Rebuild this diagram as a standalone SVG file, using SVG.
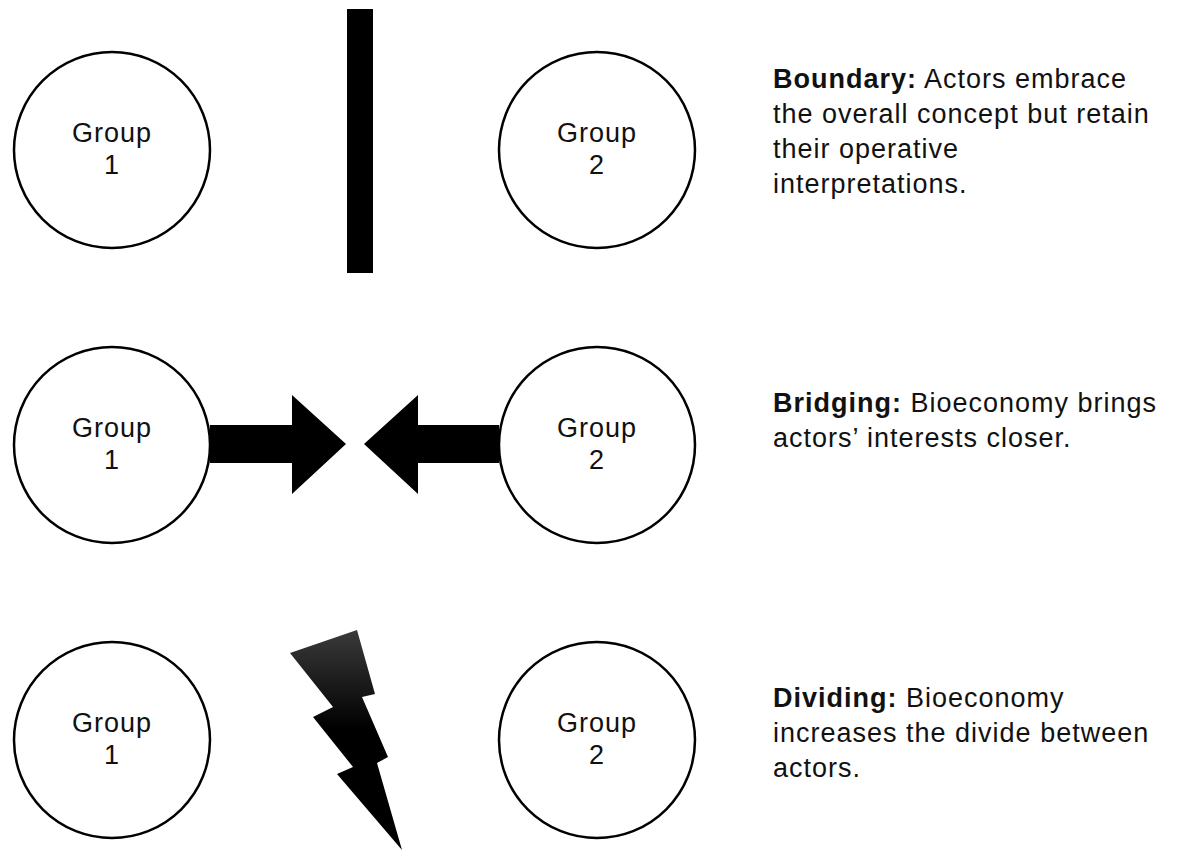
<svg xmlns="http://www.w3.org/2000/svg" width="1191" height="852" viewBox="0 0 1191 852">
<style>
.c{fill:#fff;stroke:#000;stroke-width:2.5}
.g{font-family:"Liberation Sans",Arial,sans-serif;font-size:27px;letter-spacing:1px;fill:#111;text-anchor:middle}
.d{font-family:"Liberation Sans",Arial,sans-serif;font-size:27px;letter-spacing:1px;fill:#111}
.b{font-weight:bold}
</style>
<defs>
<linearGradient id="bolt" x1="0" y1="0" x2="0" y2="1">
<stop offset="0" stop-color="#3a3a3a"/>
<stop offset="0.45" stop-color="#000"/>
<stop offset="1" stop-color="#000"/>
</linearGradient>
</defs>
<rect width="1191" height="852" fill="#fff"/>
<g id="row1-group1"><circle class="c" cx="112" cy="150" r="98"/><text class="g" x="112" y="142">Group</text><text class="g" x="112" y="174">1</text></g>
<g id="row1-group2"><circle class="c" cx="597" cy="150" r="98"/><text class="g" x="597" y="142">Group</text><text class="g" x="597" y="174">2</text></g>
<g id="row2-group1"><circle class="c" cx="112" cy="445" r="98"/><text class="g" x="112" y="437">Group</text><text class="g" x="112" y="469">1</text></g>
<g id="row2-group2"><circle class="c" cx="597" cy="445" r="98"/><text class="g" x="597" y="437">Group</text><text class="g" x="597" y="469">2</text></g>
<g id="row3-group1"><circle class="c" cx="112" cy="740" r="98"/><text class="g" x="112" y="732">Group</text><text class="g" x="112" y="764">1</text></g>
<g id="row3-group2"><circle class="c" cx="597" cy="740" r="98"/><text class="g" x="597" y="732">Group</text><text class="g" x="597" y="764">2</text></g>
<g id="connectors">
<rect id="boundary-bar" x="347" y="9" width="26" height="264" fill="#000"/>
<polygon id="arrow-right" points="210,425 292,425 292,395 346,444 292,494 292,463 210,463" fill="#000"/>
<polygon id="arrow-left" points="499,425 418,425 418,395 364,444 418,494 418,463 499,463" fill="#000"/>
<polygon id="bolt-shape" points="290,653 357,630 375,694 362,697 388,757 377,763 402,850 337,774 353,767 313,717 333,707" fill="url(#bolt)"/>
</g>
<g id="label-boundary"><text class="d" x="773" y="88"><tspan class="b">Boundary:</tspan> Actors embrace</text><text class="d" x="773" y="123">the overall concept but retain</text><text class="d" x="773" y="158">their operative</text><text class="d" x="773" y="193">interpretations.</text></g>
<g id="label-bridging"><text class="d" x="773" y="412"><tspan class="b">Bridging:</tspan> Bioeconomy brings</text><text class="d" x="773" y="447">actors’ interests closer.</text></g>
<g id="label-dividing"><text class="d" x="773" y="707"><tspan class="b">Dividing:</tspan> Bioeconomy</text><text class="d" x="773" y="742">increases the divide between</text><text class="d" x="773" y="777">actors.</text></g>
</svg>
